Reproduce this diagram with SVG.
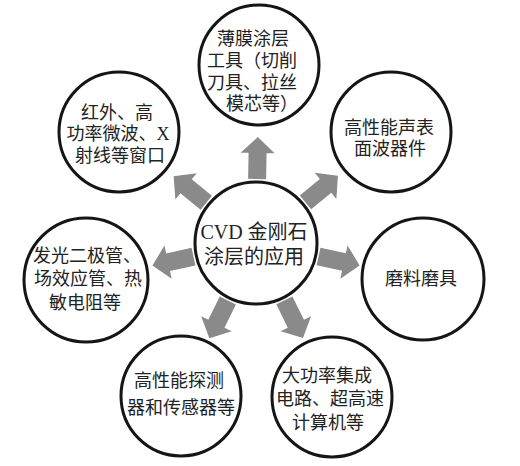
<svg xmlns="http://www.w3.org/2000/svg" width="520" height="466" viewBox="0 0 520 466">
<style>
.c{fill:#fff;stroke:#151515;stroke-width:3}
.t{font-family:"Liberation Serif","Noto Sans CJK SC",serif;font-size:18px;fill:#222;text-anchor:middle}
.tc{font-size:20px}
.a{fill:#8a8a8a}
</style>
<defs>
<path id="arr" d="M0,-9 L26,-9 L26,-17 L42,0 L26,17 L26,9 L0,9 Z"/>
</defs>
<rect width="520" height="466" fill="#fff"/>
<g id="connectors" class="a">
<use href="#arr" transform="translate(256,243) rotate(-89) translate(64,0)"/>
<use href="#arr" transform="translate(256,243) rotate(-141) translate(64,0)"/>
<use href="#arr" transform="translate(256,243) rotate(-39.4) translate(64,0)"/>
<use href="#arr" transform="translate(256,243) rotate(12.2) translate(64,0)"/>
<use href="#arr" transform="translate(256,243) rotate(167.7) translate(64,0)"/>
<use href="#arr" transform="translate(256,243) rotate(116.1) translate(64,0)"/>
<use href="#arr" transform="translate(256,243) rotate(63.7) translate(64,0)"/>
</g>
<g id="center">
<circle class="c" cx="256" cy="243" r="61"/>
<text class="t tc" x="254" y="239">CVD 金刚石</text>
<text class="t tc" x="254" y="264">涂层的应用</text>
</g>
<g id="top">
<circle class="c" cx="259" cy="65" r="60"/>
<text class="t" x="253" y="45">薄膜涂层</text>
<text class="t" x="252" y="67">工具（切削</text>
<text class="t" x="252" y="89">刀具、拉丝</text>
<text class="t" x="262" y="110">模芯等）</text>
</g>
<g id="topleft">
<circle class="c" cx="119" cy="132" r="60"/>
<text class="t" x="117" y="119">红外、高</text>
<text class="t" x="118" y="140">功率微波、X</text>
<text class="t" x="120" y="162">射线等窗口</text>
</g>
<g id="topright">
<circle class="c" cx="391" cy="132" r="60"/>
<text class="t" x="389" y="134">高性能声表</text>
<text class="t" x="390" y="155">面波器件</text>
</g>
<g id="left">
<circle class="c" cx="86" cy="280" r="62"/>
<text class="t" x="87" y="262">发光二极管、</text>
<text class="t" x="88" y="285">场效应管、热</text>
<text class="t" x="85" y="309">敏电阻等</text>
</g>
<g id="right">
<circle class="c" cx="423" cy="279" r="61"/>
<text class="t" x="421" y="285">磨料磨具</text>
</g>
<g id="bottomleft">
<circle class="c" cx="181" cy="396" r="60"/>
<text class="t" x="179" y="387">高性能探测</text>
<text class="t" x="181" y="414">器和传感器等</text>
</g>
<g id="bottomright">
<circle class="c" cx="332" cy="397" r="60"/>
<text class="t" x="327" y="382">大功率集成</text>
<text class="t" x="330" y="405">电路、超高速</text>
<text class="t" x="328" y="429">计算机等</text>
</g>
</svg>
